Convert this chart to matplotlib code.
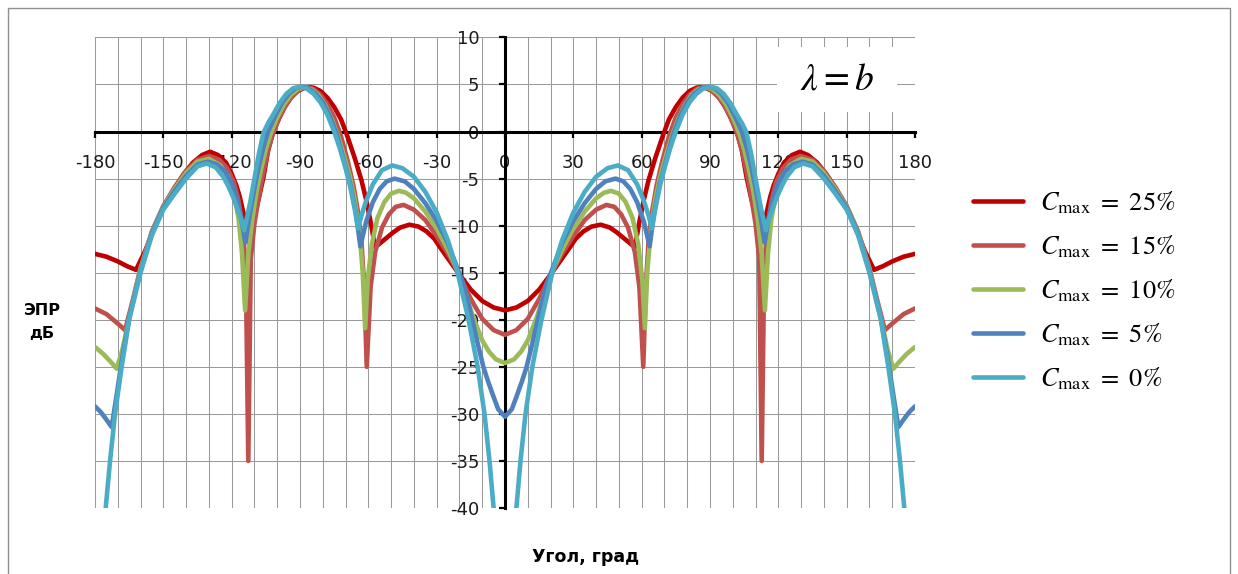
import matplotlib
matplotlib.use("Agg")
import matplotlib.pyplot as plt
from matplotlib.patches import Rectangle
from matplotlib.ticker import MultipleLocator, FuncFormatter

# --- radar cross-section vs. aspect angle, five values of C_max -------------
# angles in degrees, RCS in dB

ang_25 = [-180, -175, -170, -166, -162, -158, -154, -150, -145, -141,
          -137, -133, -129.5, -126, -122.5, -120, -118, -116.5, -114.5, -113,
          -112, -110, -108, -106, -104, -102, -100, -97, -94, -91,
          -88, -86, -84, -81, -78, -75, -72, -69.5, -66, -63,
          -61, -59, -57, -55, -52, -49, -46, -42, -38, -34.5,
          -31, -28.5, -25, -20, -15, -10, -5,
          0, 5, 10, 15, 20, 25, 28.5, 31, 34.5, 38,
          42, 46, 49, 52, 55, 57, 59, 61, 63, 66,
          69.5, 72, 75, 78, 81, 84, 86, 88, 91, 94,
          97, 100, 102, 104, 106, 108, 110, 112, 113, 114.5,
          116.5, 118, 120, 122.5, 126, 129.5, 133, 137, 141, 145,
          150, 154, 158, 162, 166, 170, 175, 180]
db_25 = [-13.0, -13.3, -13.8, -14.3, -14.7, -12.7, -10.3, -8.1, -6.0, -4.5,
         -3.3, -2.5, -2.15, -2.5, -3.3, -4.5, -5.7, -6.9, -9.0, -11.6,
         -10.8, -9.0, -7.0, -4.8, -2.0, -0.2, 1.0, 2.5, 3.6, 4.3,
         4.65, 4.72, 4.65, 4.3, 3.6, 2.6, 1.3, -0.3, -2.8, -5.2,
         -7.2, -9.6, -12.3, -11.9, -11.3, -10.7, -10.2, -9.9, -10.1, -10.6,
         -11.4, -12.3, -13.5, -15.2, -16.8, -18.0, -18.7,
         -19.0, -18.7, -18.0, -16.8, -15.2, -13.5, -12.3, -11.4, -10.6, -10.1,
         -9.9, -10.2, -10.7, -11.3, -11.9, -12.3, -9.6, -7.2, -5.2, -2.8,
         -0.3, 1.3, 2.6, 3.6, 4.3, 4.65, 4.72, 4.65, 4.3, 3.6,
         2.5, 1.0, -0.2, -2.0, -4.8, -7.0, -9.0, -10.8, -11.6, -9.0,
         -6.9, -5.7, -4.5, -3.3, -2.5, -2.15, -2.5, -3.3, -4.5, -6.0,
         -8.1, -10.3, -12.7, -14.7, -14.3, -13.8, -13.3, -13.0]

ang_15 = [-180, -175, -170, -166.8, -163.5, -160, -155, -150, -145, -140,
          -135, -130, -125.5, -122, -119, -117, -115.2, -113.8, -112.7, -111.6,
          -110, -108, -106, -104, -102, -99, -96, -93, -90, -87,
          -84, -81, -78, -75, -72, -69, -66.5, -64.5, -63, -61.8,
          -60.7, -59, -57, -54, -51, -48, -44.5, -40, -35, -30,
          -25, -20.5, -15, -10, -5,
          0, 5, 10, 15, 20.5, 25, 30, 35, 40, 44.5,
          48, 51, 54, 57, 59, 60.7, 61.8, 63, 64.5, 66.5,
          69, 72, 75, 78, 81, 84, 87, 90, 93, 96,
          99, 102, 104, 106, 108, 110, 111.6, 112.7, 113.8, 115.2,
          117, 119, 122, 125.5, 130, 135, 140, 145, 150, 155,
          160, 163.5, 166.8, 170, 175, 180]
db_15 = [-18.8, -19.4, -20.4, -21.1, -18.0, -14.5, -10.6, -7.9, -5.9, -4.2,
         -3.0, -2.6, -3.0, -3.9, -5.4, -7.3, -10.2, -14.5, -35.0, -13.5,
         -9.8, -6.8, -4.2, -2.0, -0.3, 1.5, 2.9, 3.9, 4.5, 4.72,
         4.5, 3.9, 2.9, 1.5, -0.5, -3.2, -5.8, -8.6, -11.8, -16.5,
         -25.0, -16.5, -12.8, -10.2, -8.8, -8.0, -7.8, -8.3, -9.4, -11.1,
         -13.0, -15.0, -17.8, -19.9, -21.1,
         -21.6, -21.1, -19.9, -17.8, -15.0, -13.0, -11.1, -9.4, -8.3, -7.8,
         -8.0, -8.8, -10.2, -12.8, -16.5, -25.0, -16.5, -11.8, -8.6, -5.8,
         -3.2, -0.5, 1.5, 2.9, 3.9, 4.5, 4.72, 4.5, 3.9, 2.9,
         1.5, -0.3, -2.0, -4.2, -6.8, -9.8, -13.5, -35.0, -14.5, -10.2,
         -7.3, -5.4, -3.9, -3.0, -2.6, -3.0, -4.2, -5.9, -7.9, -10.6,
         -14.5, -18.0, -21.1, -20.4, -19.4, -18.8]

ang_10 = [-180, -176.5, -173, -170.5, -168, -165, -160, -155, -150, -145,
          -140, -135, -130, -125, -121.5, -119, -117, -115.5, -114.1, -112.7,
          -111, -109, -107, -105, -103, -100, -97, -94, -91, -88,
          -85, -82, -79, -76, -73, -70.5, -68, -66, -64, -62.5,
          -61.4, -60.3, -58.5, -56, -53, -50, -46.5, -43.5, -40, -35,
          -30, -25, -20.5, -18, -14, -10, -7, -4,
          0, 4, 7, 10, 14, 18, 20.5, 25, 30, 35,
          40, 43.5, 46.5, 50, 53, 56, 58.5, 60.3, 61.4, 62.5,
          64, 66, 68, 70.5, 73, 76, 79, 82, 85, 88,
          91, 94, 97, 100, 103, 105, 107, 109, 111, 112.7,
          114.1, 115.5, 117, 119, 121.5, 125, 130, 135, 140, 145,
          150, 155, 160, 165, 168, 170.5, 173, 176.5, 180]
db_10 = [-22.9, -23.6, -24.5, -25.2, -23.2, -19.8, -14.6, -10.7, -8.0, -6.1,
         -4.4, -3.2, -2.9, -3.6, -4.8, -6.6, -9.2, -12.8, -19.0, -13.0,
         -9.4, -6.3, -3.9, -1.9, -0.3, 1.5, 2.9, 3.9, 4.5, 4.72,
         4.5, 3.9, 2.8, 1.3, -0.7, -2.7, -4.9, -7.2, -10.5, -14.8,
         -20.9, -15.8, -12.0, -9.2, -7.5, -6.6, -6.3, -6.5, -7.1, -8.5,
         -10.3, -12.6, -14.9, -16.7, -19.7, -22.2, -23.4, -24.2,
         -24.6, -24.2, -23.4, -22.2, -19.7, -16.7, -14.9, -12.6, -10.3, -8.5,
         -7.1, -6.5, -6.3, -6.6, -7.5, -9.2, -12.0, -15.8, -20.9, -14.8,
         -10.5, -7.2, -4.9, -2.7, -0.7, 1.3, 2.8, 3.9, 4.5, 4.72,
         4.5, 3.9, 2.9, 1.5, -0.3, -1.9, -3.9, -6.3, -9.4, -13.0,
         -19.0, -12.8, -9.2, -6.6, -4.8, -3.6, -2.9, -3.2, -4.4, -6.1,
         -8.0, -10.7, -14.6, -19.8, -23.2, -25.2, -24.5, -23.6, -22.9]

ang_5 = [-180, -177.5, -175, -172.7, -170.5, -168, -165, -160, -155, -150,
         -145, -140, -135, -130.5, -126.5, -123, -120, -118, -116, -114,
         -112, -110, -108, -106, -104, -101, -98, -95, -92, -89,
         -86, -83, -80, -77, -74, -71, -68, -65.5, -63.5, -61,
         -58, -55, -52, -48.5, -44, -40, -35, -30, -25, -20.5,
         -18.3, -16, -14, -12, -9.5, -7.5, -5, -3,
         0, 3, 5, 7.5, 9.5, 12, 14, 16, 18.3, 20.5,
         25, 30, 35, 40, 44, 48.5, 52, 55, 58, 61,
         63.5, 65.5, 68, 71, 74, 77, 80, 83, 86, 89,
         92, 95, 98, 101, 104, 106, 108, 110, 112, 114,
         116, 118, 120, 123, 126.5, 130.5, 135, 140, 145, 150,
         155, 160, 165, 168, 170.5, 172.7, 175, 177.5, 180]
db_5 = [-29.2, -29.8, -30.6, -31.4, -28.0, -24.0, -19.8, -14.8, -10.8, -8.1,
        -6.3, -4.7, -3.5, -3.2, -3.5, -4.2, -5.5, -6.9, -8.9, -11.8,
        -8.8, -6.0, -3.6, -1.6, 0.0, 1.6, 3.0, 4.0, 4.6, 4.75,
        4.55, 4.0, 3.1, 1.7, -0.2, -2.8, -5.5, -8.6, -12.2, -9.6,
        -7.5, -6.1, -5.3, -5.0, -5.3, -6.1, -7.6, -9.5, -11.9, -14.8,
        -16.2, -18.3, -20.4, -22.5, -25.0, -26.5, -28.2, -29.5,
        -30.3, -29.5, -28.2, -26.5, -25.0, -22.5, -20.4, -18.3, -16.2, -14.8,
        -11.9, -9.5, -7.6, -6.1, -5.3, -5.0, -5.3, -6.1, -7.5, -9.6,
        -12.2, -8.6, -5.5, -2.8, -0.2, 1.7, 3.1, 4.0, 4.55, 4.75,
        4.6, 4.0, 3.0, 1.6, 0.0, -1.6, -3.6, -6.0, -8.8, -11.8,
        -8.9, -6.9, -5.5, -4.2, -3.5, -3.2, -3.5, -4.7, -6.3, -8.1,
        -10.8, -14.8, -19.8, -24.0, -28.0, -31.4, -30.6, -29.8, -29.2]

ang_0 = [-180, -177.5, -175.3, -173.4, -171.2, -168.3, -165, -160, -155, -150,
         -145, -140, -135, -131, -127, -123.7, -121.5, -119.3, -117.5, -116,
         -114.5, -112, -110, -108, -106, -104, -102, -99, -96, -93,
         -90, -87, -84, -81, -78, -75, -72.5, -70, -68, -66,
         -64.5, -63, -61, -58, -54, -49.5, -45, -40, -35, -30,
         -25, -20.8, -16, -12, -9, -6.8, -5, -3,
         0, 3, 5, 6.8, 9, 12, 16, 20.8, 25, 30,
         35, 40, 45, 49.5, 54, 58, 61, 63, 64.5, 66,
         68, 70, 72.5, 75, 78, 81, 84, 87, 90, 93,
         96, 99, 102, 104, 106, 108, 110, 112, 114.5, 116,
         117.5, 119.3, 121.5, 123.7, 127, 131, 135, 140, 145, 150,
         155, 160, 165, 168.3, 171.2, 173.4, 175.3, 177.5, 180]
db_0 = [-60, -48, -40, -35, -30, -25, -20, -15, -11.0, -8.3,
        -6.6, -5.0, -3.7, -3.4, -3.8, -4.8, -5.8, -7.0, -8.2, -9.2,
        -10.5, -7.7, -5.0, -2.3, -0.1, 0.9, 1.7, 3.0, 4.0, 4.6,
        4.75, 4.55, 4.0, 3.1, 1.8, 0.0, -1.8, -3.9, -5.8, -8.2,
        -10.3, -8.9, -7.4, -5.6, -4.1, -3.6, -3.9, -4.8, -6.4, -8.6,
        -11.6, -15.0, -20.0, -25.0, -30.0, -35.0, -40.0, -48,
        -60, -48, -40, -35, -30, -25, -20, -15, -11.6, -8.6,
        -6.4, -4.8, -3.9, -3.6, -4.1, -5.6, -7.4, -8.9, -10.3, -8.2,
        -5.8, -3.9, -1.8, 0.0, 1.8, 3.1, 4.0, 4.55, 4.75, 4.6,
        4.0, 3.0, 1.7, 0.9, -0.1, -2.3, -5.0, -7.7, -10.5, -9.2,
        -8.2, -7.0, -5.8, -4.8, -3.8, -3.4, -3.7, -5.0, -6.6, -8.3,
        -11.0, -15.0, -20.0, -25.0, -30.0, -35.0, -40.0, -48, -60]

series_labels = [r'$C_{\max}\ =\ 25\%$', r'$C_{\max}\ =\ 15\%$', r'$C_{\max}\ =\ 10\%$',
                 r'$C_{\max}\ =\ 5\%$', r'$C_{\max}\ =\ 0\%$']
series_colors = ['#C00000', '#C0504D', '#9BBB59', '#4F81BD', '#4BACC6']
series_data = [(ang_25, db_25), (ang_15, db_15), (ang_10, db_10),
               (ang_5, db_5), (ang_0, db_0)]

x_label = 'Угол, град'
y_label = 'ЭПР\nдБ'
box_label = r'$\lambda = b$'

plt.rcParams['mathtext.fontset'] = 'stix'
plt.rcParams['font.family'] = ['DejaVu Sans']

W, H = 1238, 574
fig = plt.figure(figsize=(W / 100, H / 100), dpi=100)
fig.patch.set_facecolor('white')

# plot area in pixel terms
x_left, x_right = 95, 915
y_top, y_bot = 37.4, 508
ax = fig.add_axes([x_left / W, 1 - y_bot / H, (x_right - x_left) / W, (y_bot - y_top) / H])
ax.set_facecolor('white')

for (a, d), c, lab in zip(series_data, series_colors, series_labels):
    ax.plot(a, d, color=c, lw=3.3, label=lab, solid_joinstyle='round',
            solid_capstyle='round', zorder=3)

ax.set_xlim(-180, 180)
ax.set_ylim(-40, 10)

ax.xaxis.set_major_locator(MultipleLocator(30))
ax.xaxis.set_minor_locator(MultipleLocator(10))
ax.yaxis.set_major_locator(MultipleLocator(5))
fmt = FuncFormatter(lambda v, p: f"{int(round(v))}")
ax.xaxis.set_major_formatter(fmt)
ax.yaxis.set_major_formatter(fmt)

ax.grid(which='both', color='#9a9a9a', lw=0.75, zorder=0)
ax.set_axisbelow(True)

for side in ('top', 'right'):
    ax.spines[side].set_visible(False)
ax.spines['left'].set_position(('data', 0))
ax.spines['bottom'].set_position(('data', 0))
for side in ('left', 'bottom'):
    ax.spines[side].set_linewidth(2.2)
    ax.spines[side].set_color('black')
    ax.spines[side].set_zorder(2)

ax.tick_params(axis='x', which='major', direction='out', length=4.5, width=1.6,
               pad=12, labelsize=13, colors='black')
ax.tick_params(axis='x', which='minor', length=0)
ax.tick_params(axis='y', which='major', direction='out', length=4.5, width=1.6,
               pad=14, labelsize=13, colors='black')
for t in ax.get_xticklabels() + ax.get_yticklabels():
    t.set_color('#1a1a1a')

# white label box in the upper right of the plot
ax.add_patch(Rectangle((777 / W, 1 - 112 / H), 120 / W, 65 / H,
                       transform=fig.transFigure, facecolor='white',
                       edgecolor='none', zorder=2.2, clip_on=False))
fig.text(837 / W, 1 - 80 / H, box_label, ha='center', va='center',
         fontsize=27, zorder=5)

leg = ax.legend(loc='upper left', bbox_to_anchor=(962 / W, 1 - 179 / H),
                bbox_transform=fig.transFigure, frameon=False, fontsize=19,
                handlelength=1.9, handletextpad=0.65, labelspacing=0.66,
                borderaxespad=0)

fig.text(42 / W, 1 - 322 / H, y_label, ha='center', va='center',
         fontsize=11.5, fontweight='bold', linespacing=1.7)
fig.text(586 / W, 1 - 557 / H, x_label, ha='center', va='center',
         fontsize=12.5, fontweight='bold')

# outer frame
fig.add_artist(Rectangle((8 / W, -0.01), 1222 / W, 1 - 8 / H + 0.01,
                         transform=fig.transFigure, facecolor='none',
                         edgecolor='#8f8f8f', lw=1.0))

fig.savefig('out.png', dpi=100, facecolor='white')
